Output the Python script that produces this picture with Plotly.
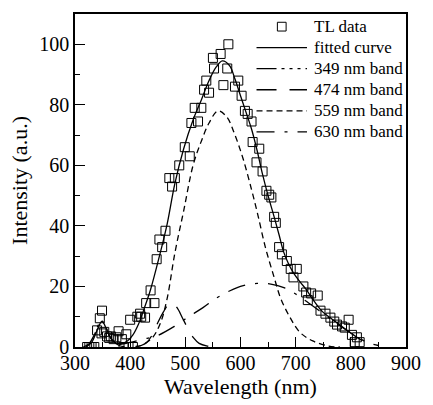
import plotly.graph_objects as go

# ---- data ----
tl_wl = [322, 326, 330, 335, 340, 345, 349, 348, 353, 358, 362, 365, 370, 375, 379, 385, 388, 393,
         397, 400, 405, 413, 418, 420, 427, 429, 437, 444, 448, 453, 458, 464, 471, 476, 481, 489,
         499, 508, 511, 517, 523, 529, 534, 538, 543, 550, 552, 564, 569, 576, 578, 590, 596, 602,
         608, 613, 620, 622, 629, 634, 640, 647, 652, 656, 661, 664, 670, 675, 684, 691, 696, 702,
         714, 719, 722, 728, 740, 745, 754, 763, 770, 775, 784, 789, 796, 802, 807, 811, 816]
tl_int = [0, 0, 0, 0, 5.5, 9.5, 12, 4.5, 5, 3.5, 3, 3.5, 2.6, 3.2, 5.2, 2.6, 0, 4.2,
          0, 9, 0, 10, 11, 10, 9.7, 14.5, 18.7, 14.5, 29, 35.5, 33, 38.4, 55.8, 53, 55.8, 60,
          66, 63, 74, 79, 74.5, 79, 85, 88, 84, 95.5, 92, 96.8, 86.5, 92, 100, 86, 88, 83,
          78, 77, 74.5, 67.7, 61, 65.5, 58, 51.6, 50.3, 49.4, 43, 41, 33, 30.6, 28.4, 25.8, 23, 25.8,
          20, 18, 15.5, 17.7, 17, 12, 11, 9.7, 8.4, 7.4, 6.8, 6.4, 9, 4, 1.6, 3.2, 1.6]

fit_wl = [320, 330, 340, 349, 358, 366, 375, 385, 395, 405, 415, 425, 437, 453, 467, 481, 497,
          514, 529, 543, 556, 567, 580, 590, 600, 611, 620, 630, 640, 650, 661, 670, 678, 687,
          696, 708, 719, 734, 749, 764, 779, 795, 811, 820]
fit_int = [0, 1.5, 5.5, 8.5, 5.5, 2.5, 1.3, 1.2, 2, 4, 7.5, 12.5, 19, 30, 40.6, 54, 65.5,
           75, 81.6, 88, 92.5, 94.5, 93, 88.5, 83, 77, 72, 65, 57, 50, 43, 37, 31.5, 27.5,
           24.5, 21.5, 19, 15, 11.6, 9.5, 7.4, 5.3, 3.2, 2.2]

b349_wl = [315, 325, 335, 343, 349, 355, 362, 370, 380, 395]
b349_int = [0, 1, 4, 7.5, 8.5, 7, 4, 1.8, 0.5, 0]

b474_wl = [410, 420, 430, 440, 450, 460, 468, 476, 485, 495, 505, 515, 525, 540, 555]
b474_int = [0.2, 0.5, 1.5, 4, 8, 11.5, 13.8, 14.6, 13, 9.5, 6, 3, 1.2, 0.3, 0]

b559_wl = [410, 420, 440, 455, 467, 481, 497, 514, 529, 543, 559, 575, 590, 605, 620, 631,
           645, 661, 673, 690, 708, 731, 760, 780]
b559_int = [0.1, 0.5, 3, 8, 16, 31, 45, 60, 68, 74, 78, 76, 70, 62, 52, 44,
            33, 23, 16, 9.7, 4.8, 2, 0.3, 0]

b630_wl = [380, 400, 423, 446, 480, 506, 532, 555, 580, 605, 630, 655, 680, 700, 720, 750,
           780, 810, 830, 850]
b630_int = [0.8, 1.5, 2.6, 3.5, 6.8, 10, 13, 16, 18.5, 20.3, 21, 20.8, 19.5, 17.5, 15, 11,
            7, 3.5, 1.5, 0.5]

x_ticks = [300, 400, 500, 600, 700, 800, 900]
y_ticks = [0, 20, 40, 60, 80, 100]

legend_names = ["TL data", "fitted curve", "349 nm band", "474 nm band", "559 nm band", "630 nm band"]

FONT = "Liberation Serif"
W, H = 433, 405
ML, MR, MT, MB = 75, 17, 12, 51
PW, PH = W - ML - MR, H - MT - MB

DASH = {
    "fitted curve": "solid",
    "349 nm band": "20px,5px,3px,5px,3px,5px,3px,5px",
    "474 nm band": "20px,13px",
    "559 nm band": "6px,4px",
    "630 nm band": "18px,10px,3px,10px",
}

fig = go.Figure()
fig.add_trace(go.Scatter(x=tl_wl, y=tl_int, mode="markers", name="TL data", showlegend=False,
                         marker=dict(symbol="square-open", size=9, color="black",
                                     line=dict(width=1, color="black"))))
curves = [("fitted curve", fit_wl, fit_int), ("349 nm band", b349_wl, b349_int),
          ("474 nm band", b474_wl, b474_int), ("559 nm band", b559_wl, b559_int),
          ("630 nm band", b630_wl, b630_int)]
for name, xs, ys in curves:
    fig.add_trace(go.Scatter(x=xs, y=ys, mode="lines", name=name, showlegend=False,
                             line=dict(color="black", width=1.3, shape="spline", dash=DASH[name])))

# ---- hand-built legend (layout only, pixel -> paper) ----
def px_x(px):
    return (px - ML) / PW

def px_y(py):
    return (H - MB - py) / PH

row0, row_gap = 25, 21.6
key_x0, key_x1, text_x = 262, 314, 319
for i, name in enumerate(legend_names):
    yc = row0 + i * row_gap
    fig.add_annotation(x=px_x(text_x), y=px_y(yc), xref="paper", yref="paper", text=name,
                       showarrow=False, xanchor="left", yanchor="middle",
                       font=dict(family=FONT, size=17, color="black"))
    if name == "TL data":
        cx = (key_x0 + key_x1) / 2
        fig.add_shape(type="rect", xref="paper", yref="paper",
                      x0=px_x(cx - 4.5), x1=px_x(cx + 4.5), y0=px_y(yc + 4.5), y1=px_y(yc - 4.5),
                      line=dict(color="black", width=1))
    else:
        fig.add_shape(type="line", xref="paper", yref="paper",
                      x0=px_x(key_x0), x1=px_x(key_x1), y0=px_y(yc), y1=px_y(yc),
                      line=dict(color="black", width=1.3, dash=DASH[name]))

axis_common = dict(showgrid=False, zeroline=False, showline=True, linecolor="black",
                   linewidth=1.5, mirror=True, ticks="inside", ticklen=10, tickwidth=1.2,
                   tickcolor="black", tickfont=dict(family=FONT, size=20, color="black"))

fig.update_xaxes(range=[300, 900], tickvals=x_ticks, ticktext=[str(v) for v in x_ticks],
                 minor=dict(ticks="inside", ticklen=5, dtick=50, tickcolor="black", tickwidth=1),
                 title=dict(text="Wavelength (nm)", font=dict(family=FONT, size=22, color="black"),
                            standoff=4),
                 ticklabelstandoff=-3,
                 **axis_common)
fig.update_yaxes(range=[0, 110], tickvals=y_ticks, ticktext=[str(v) for v in y_ticks],
                 minor=dict(ticks="inside", ticklen=5, dtick=10, tickcolor="black", tickwidth=1),
                 title=dict(text="Intensity (a.u.)", font=dict(family=FONT, size=22, color="black"),
                            standoff=6),
                 **axis_common)

fig.update_layout(
    width=W, height=H,
    margin=dict(l=ML, r=MR, t=MT, b=MB),
    paper_bgcolor="white", plot_bgcolor="white",
    font=dict(family=FONT, color="black"),
    showlegend=False,
)

fig.write_html("out.html")
